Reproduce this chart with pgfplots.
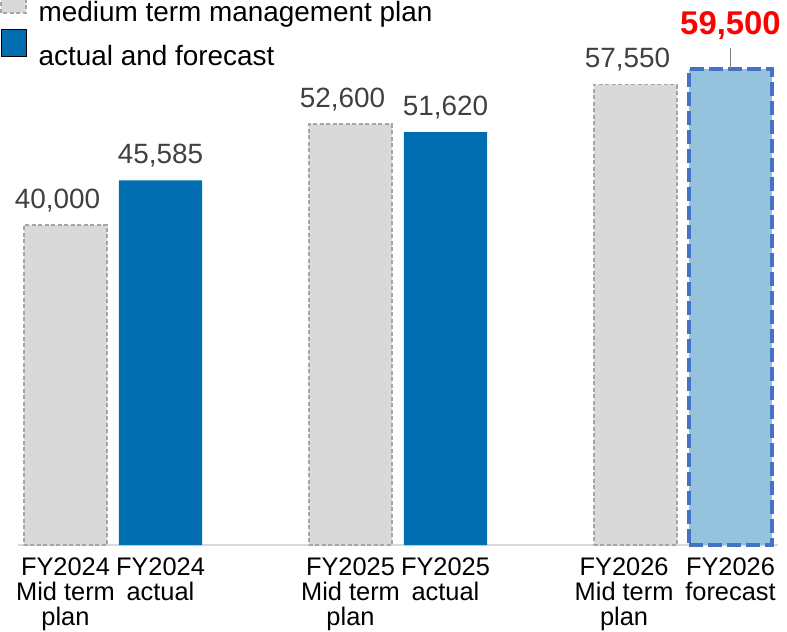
\documentclass[border=0pt]{standalone}
\usepackage{pgfplots}
\pgfplotsset{compat=1.18}
\usepackage{fontspec}
\setmainfont{Liberation Sans}
\definecolor{plangray}{RGB}{217,217,217}
\definecolor{planedge}{RGB}{166,166,166}
\definecolor{actblue}{RGB}{0,110,176}
\definecolor{fcfill}{RGB}{149,195,221}
\definecolor{fcedge}{RGB}{68,114,196}
\definecolor{labgray}{RGB}{64,64,64}
\begin{document}
\begin{tikzpicture}
\begin{axis}[
  scale only axis,
  width=760bp, height=545bp,
  xmin=-0.5, xmax=7.5, ymin=0, ymax=68125,
  axis y line=none,
  axis x line*=bottom,
  x axis line style={color=plangray, line width=1.5bp, -},
  major tick length=0,
  xtick={0,1,3,4,5.88,7},
  xticklabels={{FY2024\\Mid term\\plan},{FY2024\\actual},{FY2025\\Mid term\\plan},{FY2025\\actual},{FY2026\\Mid term\\plan},{FY2026\\forecast}},
  xticklabel style={align=center, inner sep=0pt, yshift=-13bp, font=\fontsize{25.5}{25}\selectfont, text=black},
  ybar, bar width=0.874, bar shift=0pt,
  clip=false,
  /pgf/number format/assume math mode=true,
  /pgf/number format/1000 sep={,},
  nodes near coords,
  every node near coord/.append style={anchor=base, inner sep=0pt, font=\fontsize{28}{30}\selectfont, text=labgray},
  legend style={at={(rel axis cs:0,1)}, anchor=north west, xshift=-18bp, yshift=15bp,
    draw=none, fill=none, inner sep=0pt, row sep=1bp, column sep=12bp,
    nodes={inner sep=0pt, text height=26bp, text depth=6bp, font=\fontsize{28}{30}\selectfont}},
  legend cell align=left,
  legend image code/.code={\draw[#1] (0bp,-1bp) rectangle (25bp,26bp);},
]
\addplot[fill=plangray, draw=planedge, line width=1.5bp, dash pattern=on 4bp off 2.5bp,
  every node near coord/.append style={xshift=-8bp, yshift=17bp}]
  coordinates {(0,40000) (3,52600) (6,57550)};
\addlegendentry{medium term management plan}
\addplot[fill=actblue, draw=none,
  every node near coord/.append style={yshift=17bp}]
  coordinates {(1,45585) (4,51620)};
\addlegendentry{actual and forecast}
\addplot[fill=fcfill, draw=fcedge, line width=4bp, dash pattern=on 14bp off 5bp, forget plot,
  every node near coord/.append style={yshift=34bp, text=red, font=\fontsize{33}{35}\bfseries}]
  coordinates {(7,59500)};
\draw[gray, line width=1bp] (axis cs:7,59500) -- ++(0pt,21bp);
\end{axis}
\pgfresetboundingbox
\useasboundingbox ([shift={(-18bp,-86bp)}]current axis.south west) rectangle ([shift={(9bp,0bp)}]current axis.north east);
\end{tikzpicture}
\end{document}
